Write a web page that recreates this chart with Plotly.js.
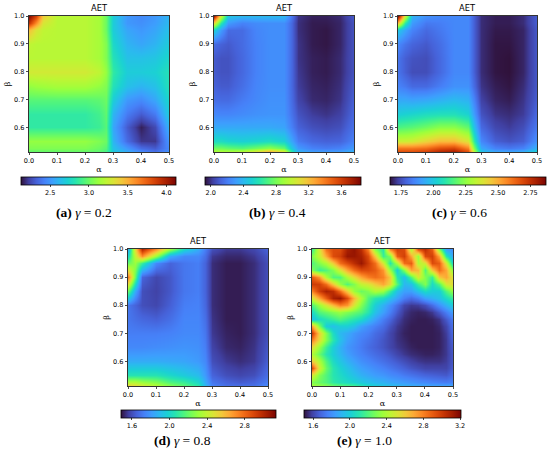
<!DOCTYPE html>
<html><head><meta charset="utf-8">
<script src="https://cdn.plot.ly/plotly-3.0.1.min.js"></script>
<style>html,body{margin:0;padding:0;background:#fff;}#chart{width:550px;height:459px;}</style>
</head><body><div id="chart"></div>
<script>
// alpha / beta sample positions
var alphaCoarse = [0, 0.025, 0.05, 0.1, 0.15, 0.2, 0.25, 0.275, 0.3, 0.35, 0.4, 0.45, 0.5];
var betaCoarse  = [0.51, 0.525, 0.55, 0.6, 0.65, 0.7, 0.75, 0.8, 0.85, 0.9, 0.95, 0.975, 1.0];
var alphaFine = [0,0.025,0.05,0.075,0.1,0.125,0.15,0.175,0.2,0.225,0.25,0.275,0.3,0.325,0.35,0.375,0.4,0.425,0.45,0.475,0.5];
var betaFine  = [0.51,0.525,0.55,0.575,0.6,0.625,0.65,0.675,0.7,0.725,0.75,0.775,0.8,0.825,0.85,0.875,0.9,0.925,0.95,0.975,1.0];

var gammaLabels = ["0.2", "0.4", "0.6", "0.8", "1.0"];
var panelLetters = ["a", "b", "c", "d", "e"];
var panelTitle = "AET";

// AET, gamma = 0.2 (rows: beta bottom -> top)
var aetG02 = [
 [2.95,2.95,2.95,2.95,2.95,2.95,2.95,2.90,2.70,2.60,2.50,2.40,2.50],
 [3.05,3.05,3.05,3.05,3.05,3.05,3.00,2.95,2.65,2.50,2.35,2.30,2.45],
 [3.10,3.10,3.10,3.10,3.10,3.10,3.05,3.00,2.60,2.35,2.20,2.20,2.50],
 [2.85,2.85,2.85,2.85,2.85,2.85,2.88,2.95,2.55,2.30,2.15,2.25,2.60],
 [2.85,2.85,2.85,2.85,2.85,2.85,2.90,2.97,2.60,2.40,2.30,2.40,2.70],
 [2.95,2.95,2.95,2.95,2.95,2.95,2.97,3.00,2.70,2.50,2.45,2.55,2.75],
 [3.10,3.12,3.13,3.15,3.15,3.15,3.10,3.05,2.80,2.65,2.60,2.65,2.80],
 [3.28,3.28,3.28,3.28,3.28,3.28,3.22,3.10,2.85,2.70,2.70,2.72,2.80],
 [3.20,3.20,3.20,3.20,3.20,3.20,3.15,3.05,2.80,2.65,2.65,2.67,2.75],
 [3.22,3.20,3.20,3.20,3.20,3.20,3.15,3.05,2.75,2.60,2.55,2.60,2.70],
 [3.45,3.30,3.22,3.20,3.20,3.20,3.15,3.00,2.70,2.55,2.50,2.55,2.65],
 [3.90,3.60,3.30,3.20,3.20,3.20,3.15,3.00,2.70,2.50,2.47,2.52,2.62],
 [4.10,3.85,3.40,3.20,3.20,3.20,3.15,3.00,2.70,2.50,2.45,2.50,2.60]
];
// AET, gamma = 0.4
var aetG04 = [
 [3.00,3.00,3.00,3.05,3.20,3.45,3.20,2.70,2.42,2.35,2.35,2.35,2.42],
 [2.78,2.78,2.75,2.72,2.78,2.85,2.75,2.48,2.30,2.22,2.20,2.22,2.30],
 [2.55,2.55,2.52,2.50,2.52,2.55,2.50,2.35,2.20,2.14,2.12,2.13,2.22],
 [2.35,2.35,2.35,2.35,2.35,2.35,2.33,2.22,2.12,2.07,2.05,2.07,2.17],
 [2.24,2.23,2.23,2.25,2.27,2.28,2.28,2.18,2.08,2.02,2.00,2.03,2.14],
 [2.16,2.15,2.15,2.20,2.24,2.27,2.27,2.16,2.04,1.98,1.97,2.00,2.12],
 [2.12,2.10,2.10,2.16,2.23,2.26,2.26,2.15,2.02,1.97,1.96,1.99,2.10],
 [2.10,2.08,2.08,2.14,2.22,2.26,2.26,2.15,2.01,1.96,1.95,1.98,2.08],
 [2.10,2.08,2.08,2.14,2.22,2.26,2.26,2.15,2.00,1.96,1.95,1.98,2.08],
 [2.15,2.12,2.10,2.15,2.22,2.26,2.26,2.15,2.00,1.95,1.94,1.97,2.08],
 [2.50,2.30,2.15,2.15,2.23,2.26,2.26,2.15,1.99,1.95,1.94,1.97,2.08],
 [3.10,2.60,2.30,2.22,2.25,2.26,2.26,2.15,1.99,1.95,1.95,1.97,2.08],
 [3.75,3.00,2.45,2.40,2.40,2.40,2.40,2.20,2.00,1.96,1.96,1.98,2.10]
];
// AET, gamma = 0.6
var aetG06 = [
 [2.72,2.72,2.72,2.75,2.82,2.85,2.72,2.35,2.02,1.96,1.96,1.98,2.08],
 [2.60,2.60,2.60,2.62,2.68,2.70,2.58,2.22,1.93,1.85,1.83,1.85,1.95],
 [2.35,2.35,2.36,2.42,2.47,2.47,2.38,2.10,1.86,1.78,1.76,1.78,1.88],
 [2.15,2.16,2.17,2.20,2.24,2.24,2.18,1.98,1.80,1.74,1.72,1.75,1.83],
 [2.02,2.03,2.04,2.06,2.07,2.07,2.03,1.90,1.76,1.71,1.70,1.72,1.80],
 [1.93,1.93,1.92,1.93,1.95,1.97,1.95,1.85,1.73,1.69,1.68,1.71,1.78],
 [1.85,1.83,1.80,1.80,1.84,1.88,1.88,1.80,1.71,1.68,1.67,1.70,1.77],
 [1.82,1.78,1.75,1.75,1.80,1.86,1.86,1.78,1.70,1.67,1.665,1.69,1.77],
 [1.82,1.78,1.76,1.75,1.80,1.86,1.86,1.78,1.70,1.67,1.665,1.69,1.77],
 [1.86,1.82,1.79,1.77,1.81,1.86,1.86,1.78,1.70,1.67,1.67,1.69,1.77],
 [2.00,1.92,1.85,1.80,1.83,1.86,1.86,1.78,1.70,1.675,1.675,1.69,1.77],
 [2.45,2.10,1.90,1.83,1.84,1.86,1.86,1.78,1.70,1.68,1.68,1.70,1.78],
 [2.85,2.35,1.95,1.88,1.86,1.86,1.86,1.78,1.70,1.68,1.68,1.70,1.78]
];
// AET, gamma = 0.8
var aetG08 = [
 [2.60,2.55,2.50,2.40,2.30,2.20,2.10,1.90,1.75,1.70,1.70,1.70,1.78],
 [2.35,2.35,2.30,2.25,2.15,2.10,2.00,1.85,1.70,1.65,1.63,1.65,1.72],
 [2.05,2.05,2.05,2.05,2.00,1.95,1.90,1.80,1.65,1.60,1.58,1.60,1.68],
 [1.85,1.85,1.85,1.85,1.84,1.83,1.80,1.75,1.60,1.55,1.53,1.55,1.64],
 [1.75,1.75,1.75,1.76,1.77,1.78,1.77,1.72,1.57,1.52,1.51,1.54,1.62],
 [1.72,1.72,1.72,1.72,1.73,1.75,1.75,1.70,1.55,1.51,1.50,1.53,1.60],
 [1.70,1.68,1.66,1.64,1.68,1.74,1.74,1.68,1.54,1.50,1.50,1.53,1.60],
 [1.70,1.65,1.60,1.58,1.64,1.72,1.73,1.66,1.53,1.50,1.50,1.53,1.60],
 [2.20,1.85,1.60,1.57,1.62,1.70,1.72,1.65,1.53,1.50,1.50,1.53,1.60],
 [2.75,2.20,1.65,1.58,1.62,1.70,1.72,1.65,1.53,1.50,1.50,1.53,1.60],
 [2.20,2.30,2.10,1.75,1.65,1.70,1.72,1.65,1.53,1.50,1.50,1.53,1.60],
 [2.00,2.40,2.70,2.30,1.85,1.75,1.75,1.68,1.55,1.52,1.52,1.55,1.62],
 [1.85,2.50,3.00,2.70,2.30,2.00,1.85,1.72,1.60,1.55,1.55,1.58,1.65]
];
// AET, gamma = 1.0 (finer grid)
var aetG10 = [
 [2.40,2.38,2.35,2.30,2.27,2.25,2.22,2.15,2.08,2.03,2.00,1.97,1.95,1.93,1.92,1.91,1.90,1.90,1.90,1.90,1.92],
 [2.30,2.25,2.20,2.12,2.08,2.05,2.02,1.98,1.95,1.92,1.90,1.87,1.85,1.83,1.81,1.79,1.78,1.76,1.75,1.74,1.76],
 [2.50,2.30,2.20,2.10,2.05,2.00,1.95,1.90,1.87,1.84,1.82,1.79,1.77,1.74,1.72,1.70,1.68,1.67,1.66,1.65,1.70],
 [2.95,2.50,2.25,2.10,2.02,1.96,1.90,1.85,1.82,1.79,1.76,1.73,1.70,1.67,1.64,1.62,1.60,1.60,1.60,1.60,1.66],
 [2.60,2.40,2.20,2.05,1.97,1.90,1.85,1.80,1.77,1.74,1.71,1.68,1.65,1.62,1.59,1.57,1.56,1.56,1.56,1.58,1.65],
 [2.40,2.25,2.10,2.00,1.92,1.85,1.80,1.76,1.73,1.70,1.67,1.64,1.60,1.57,1.55,1.54,1.53,1.53,1.54,1.57,1.65],
 [2.55,2.35,2.15,2.00,1.90,1.82,1.78,1.74,1.70,1.67,1.64,1.60,1.57,1.55,1.53,1.52,1.52,1.52,1.53,1.57,1.66],
 [2.80,2.55,2.30,2.10,1.95,1.85,1.80,1.75,1.72,1.68,1.64,1.60,1.56,1.54,1.52,1.52,1.52,1.52,1.53,1.57,1.68],
 [3.00,2.60,2.30,2.05,1.92,1.88,1.82,1.78,1.75,1.70,1.66,1.60,1.56,1.53,1.52,1.52,1.52,1.52,1.53,1.58,1.70],
 [2.70,2.30,2.00,1.95,2.00,2.00,1.95,1.85,1.80,1.75,1.70,1.63,1.57,1.54,1.52,1.52,1.52,1.52,1.54,1.60,1.72],
 [1.95,2.05,2.10,2.15,2.20,2.15,2.10,2.05,1.95,1.85,1.75,1.68,1.60,1.55,1.53,1.52,1.52,1.53,1.56,1.65,1.75],
 [2.05,2.20,2.25,2.30,2.35,2.30,2.25,2.20,2.10,1.95,1.85,1.75,1.65,1.57,1.54,1.53,1.54,1.57,1.65,1.75,1.85],
 [2.20,2.35,2.50,2.65,2.80,2.75,2.50,2.30,2.15,2.00,1.90,1.80,1.70,1.60,1.57,1.58,1.62,1.70,1.80,1.90,2.00],
 [2.50,2.70,2.90,3.10,3.14,2.95,2.65,2.40,2.20,2.10,2.05,1.95,1.85,1.75,1.70,1.75,1.85,1.90,1.95,2.05,2.15],
 [2.80,2.99,3.10,3.05,2.85,2.60,2.35,2.25,2.30,2.40,2.35,2.15,1.95,1.85,1.85,1.95,2.05,2.00,2.00,2.20,2.35],
 [3.00,2.99,2.85,2.60,2.35,2.20,2.30,2.45,2.50,2.60,2.70,2.55,2.20,1.92,1.95,2.15,2.30,2.05,2.20,2.50,2.55],
 [2.90,2.75,2.40,2.20,2.20,2.40,2.55,2.70,2.80,2.85,2.80,2.60,2.10,1.95,2.20,2.50,2.30,2.15,2.60,2.70,2.50],
 [2.30,2.15,2.20,2.30,2.50,2.70,2.85,2.95,2.95,2.90,2.75,2.35,2.00,2.30,2.70,2.65,2.20,2.60,2.85,2.70,2.30],
 [2.20,2.30,2.40,2.60,2.85,2.95,3.05,3.14,3.00,2.85,2.50,2.10,2.40,2.85,2.90,2.40,2.50,2.95,2.90,2.50,2.00],
 [2.30,2.45,2.70,2.95,2.99,3.14,3.14,3.10,2.95,2.60,2.15,2.30,2.90,2.99,2.70,2.35,2.95,2.99,2.70,2.10,1.85],
 [2.15,2.50,2.85,2.95,2.95,3.10,3.15,3.05,2.80,2.30,2.10,2.80,2.99,2.95,2.40,2.95,3.05,2.90,2.30,1.85,1.79]
];

var xTickVals = [0, 0.1, 0.2, 0.3, 0.4, 0.5];
var yTickVals = [0.6, 0.7, 0.8, 0.9, 1.0];

var turbo = [
 [0.00,'rgb(48,18,59)'],[0.05,'rgb(64,64,162)'],[0.10,'rgb(70,98,217)'],[0.15,'rgb(70,129,248)'],
 [0.20,'rgb(61,158,253)'],[0.25,'rgb(42,186,238)'],[0.30,'rgb(27,209,211)'],[0.35,'rgb(39,228,176)'],
 [0.40,'rgb(73,243,132)'],[0.45,'rgb(115,252,91)'],[0.50,'rgb(156,255,60)'],[0.55,'rgb(191,245,52)'],
 [0.60,'rgb(220,226,54)'],[0.65,'rgb(242,200,58)'],[0.70,'rgb(253,169,53)'],[0.75,'rgb(251,136,37)'],
 [0.80,'rgb(238,103,21)'],[0.85,'rgb(219,74,10)'],[0.90,'rgb(192,48,3)'],[0.95,'rgb(160,27,1)'],
 [1.00,'rgb(122,4,3)']
];

var W = 550, H = 459;
function px(x){ return x / W; }
function py(y){ return 1 - y / H; }

// panel geometry in pixels: plot box [x0,x1,y0,y1], colorbar [x0,x1,ytop], caption centre
var panels = [
 {z: aetG02, x: alphaCoarse, y: betaCoarse, box:[29,169,16,152], cb:[20.7,176,177], cmin:2.12, cmax:4.12, tick0:2.5, dtick:0.5, fmt:'.1f', cap:[84,212]},
 {z: aetG04, x: alphaCoarse, y: betaCoarse, box:[214,354,16,152], cb:[205,361,177], cmin:1.93, cmax:3.84, tick0:2.0, dtick:0.4, fmt:'.1f', cap:[277,212]},
 {z: aetG06, x: alphaCoarse, y: betaCoarse, box:[398,537,16,152], cb:[390,545.7,177], cmin:1.665, cmax:2.87, tick0:1.75, dtick:0.25, fmt:'.2f', cap:[459,212]},
 {z: aetG08, x: alphaCoarse, y: betaCoarse, box:[128,268,249,386], cb:[120.7,276,409.5], cmin:1.48, cmax:3.13, tick0:1.6, dtick:0.4, fmt:'.1f', cap:[182,440]},
 {z: aetG10, x: alphaFine, y: betaFine, box:[312,453,249,386], cb:[304,461,409.5], cmin:1.5, cmax:3.21, tick0:1.6, dtick:0.4, fmt:'.1f', cap:[364,440]}
];

var tickFont = {family:'DejaVu Sans', size:6.5, color:'#000'};
var data = [];
var layout = {
  width: W, height: H,
  margin: {l:0, r:0, t:0, b:0},
  paper_bgcolor: '#fff', plot_bgcolor: '#fff',
  showlegend: false,
  annotations: []
};

panels.forEach(function(p, i){
  var n = i + 1;
  var xs = n === 1 ? '' : String(n);
  data.push({
    type: 'heatmap', x: p.x, y: p.y, z: p.z,
    xaxis: 'x' + xs, yaxis: 'y' + xs,
    coloraxis: 'coloraxis' + xs,
    zsmooth: 'best', hoverinfo: 'skip'
  });
  layout['xaxis' + xs] = {
    domain: [px(p.box[0]), px(p.box[1])], anchor: 'y' + xs,
    range: [0, 0.5], tickvals: xTickVals, tickformat: '.1f',
    ticks: 'outside', ticklen: 2.5, tickwidth: 0.7, tickcolor: '#000',
    tickfont: tickFont, showgrid: false, zeroline: false,
    showline: true, mirror: true, linecolor: '#000', linewidth: 0.8,
    title: {text: 'α', font: {family:'DejaVu Serif', size: 8, color:'#000'}, standoff: 2}
  };
  layout['yaxis' + xs] = {
    domain: [py(p.box[3]), py(p.box[2])], anchor: 'x' + xs,
    range: [0.512, 1.0], tickvals: yTickVals, tickformat: '.1f',
    ticks: 'outside', ticklen: 2.5, tickwidth: 0.7, tickcolor: '#000',
    tickfont: tickFont, showgrid: false, zeroline: false,
    showline: true, mirror: true, linecolor: '#000', linewidth: 0.8,
    title: {text: 'β', font: {family:'DejaVu Serif', size: 8, color:'#000'}, standoff: 2}
  };
  layout['coloraxis' + xs] = {
    colorscale: turbo, cmin: p.cmin, cmax: p.cmax,
    colorbar: {
      orientation: 'h', x: px(p.cb[0]), xanchor: 'left', y: py(p.cb[2]), yanchor: 'top',
      len: (p.cb[1] - p.cb[0]) / W, lenmode: 'fraction',
      thickness: 8, thicknessmode: 'pixels', xpad: 0, ypad: 0,
      outlinewidth: 0.8, outlinecolor: '#000',
      ticks: 'outside', ticklen: 2, tickwidth: 0.7, tickcolor: '#000',
      tick0: p.tick0, dtick: p.dtick, tickformat: p.fmt,
      tickfont: tickFont
    }
  };
  layout.annotations.push({
    text: panelTitle, xref: 'paper', yref: 'paper',
    x: (px(p.box[0]) + px(p.box[1])) / 2, y: py(p.box[2] - 1),
    xanchor: 'center', yanchor: 'bottom', showarrow: false,
    font: {family: 'DejaVu Sans', size: 8.3, color: '#000'}
  });
  layout.annotations.push({
    text: '<b>(' + panelLetters[i] + ')</b> <i>γ</i> = ' + gammaLabels[i],
    xref: 'paper', yref: 'paper', x: px(p.cap[0]), y: py(p.cap[1]),
    xanchor: 'center', yanchor: 'middle', showarrow: false,
    font: {family: 'Liberation Serif, DejaVu Serif, serif', size: 13.5, color: '#000'}
  });
});

Plotly.newPlot('chart', data, layout, {staticPlot: true, displayModeBar: false});
</script></body></html>
